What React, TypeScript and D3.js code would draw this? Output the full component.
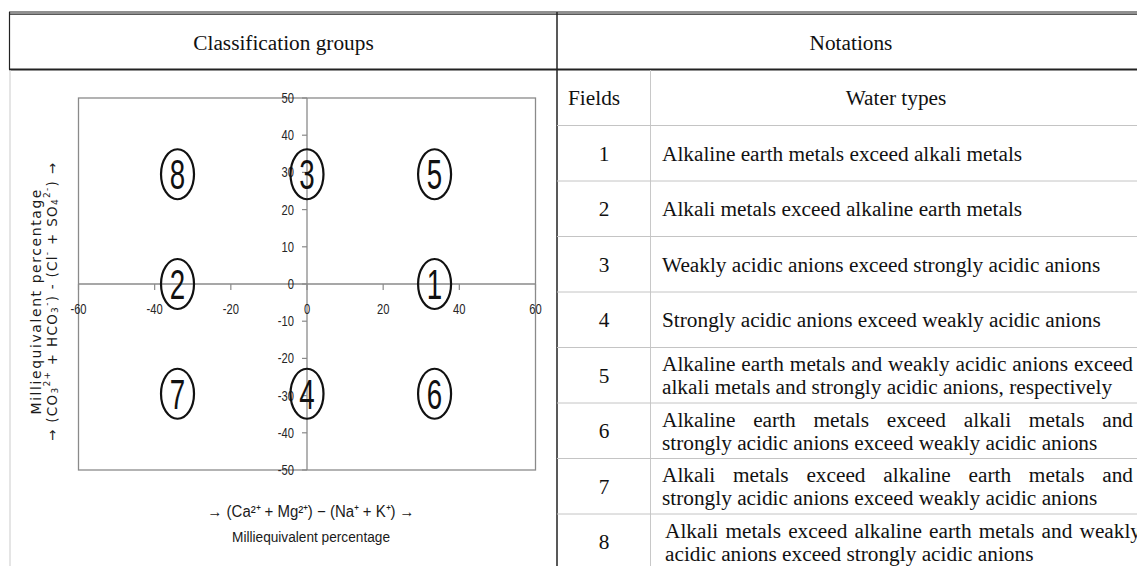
import React from 'react';
import * as d3 from 'd3';

// Axis ticks of the classification diagram
const X_TICKS = [-60, -40, -20, 0, 20, 40, 60];
const Y_TICKS = [50, 40, 30, 20, 10, 0, -10, -20, -30, -40, -50];

// Circled field markers (x = cation difference, y = anion difference)
const FIELD_LABELS = ['1', '2', '3', '4', '5', '6', '7', '8'];
const FIELD_X = [33.5, -34, 0, 0, 33.5, 33.5, -34, -34];
const FIELD_Y = [0, 0, 29.5, -29.5, 29.5, -29.5, -29.5, 29.5];

// Notation table
const FIELD_NUMBERS = ['1', '2', '3', '4', '5', '6', '7', '8'];
const WATER_TYPES = [
  ['Alkaline earth metals exceed alkali metals'],
  ['Alkali metals exceed alkaline earth metals'],
  ['Weakly acidic anions exceed strongly acidic anions'],
  ['Strongly acidic anions exceed weakly acidic anions'],
  ['Alkaline earth metals and weakly acidic anions exceed', 'alkali metals and strongly acidic anions, respectively'],
  ['Alkaline earth metals exceed alkali metals and', 'strongly acidic anions exceed weakly acidic anions'],
  ['Alkali metals exceed alkaline earth metals and', 'strongly acidic anions exceed weakly acidic anions'],
  ['Alkali metals exceed alkaline earth metals and weakly', 'acidic anions exceed strongly acidic anions'],
];

const X_TITLE = '\u2192 (Ca\u00B2\u207A + Mg\u00B2\u207A) \u2212 (Na\u207A + K\u207A) \u2192';
const X_SUBTITLE = 'Milliequivalent percentage';
const Y_SUBTITLE = 'Milliequivalent percentage';

const SERIF = "'Liberation Serif', 'Times New Roman', serif";
const SANS = "'Liberation Sans', Arial, sans-serif";
const WIDE = "'DejaVu Sans', Verdana, sans-serif";
const TABLE_FS = 21.3;

let measureCtx: CanvasRenderingContext2D | null = null;
function textWidth(s: string): number {
  if (!measureCtx && typeof document !== 'undefined') {
    measureCtx = document.createElement('canvas').getContext('2d');
  }
  if (!measureCtx) return s.length * TABLE_FS * 0.45;
  measureCtx.font = `${TABLE_FS}px ${SERIF}`;
  return measureCtx.measureText(s).width;
}

function JustifiedLine({ text, x, y, width }: { text: string; x: number; y: number; width: number }) {
  const words = text.split(' ');
  const widths = words.map(textWidth);
  const total = widths.reduce((a, b) => a + b, 0);
  const gap = (width - total) / Math.max(1, words.length - 1);
  let cx = x;
  const xsPos = widths.map((w) => {
    const p = cx;
    cx += w + gap;
    return p;
  });
  return (
    <text y={y} fontFamily={SERIF} fontSize={TABLE_FS} fill="#111" dominantBaseline="middle">
      {words.map((w, i) => (
        <tspan key={i} x={xsPos[i]}>
          {w}
        </tspan>
      ))}
    </text>
  );
}

function NarrowText({ x, y, sx, size, anchor, children, fill = '#262626', family = SANS }: any) {
  return (
    <text
      transform={`translate(${x},${y}) scale(${sx},1)`}
      fontFamily={family}
      fontSize={size}
      textAnchor={anchor}
      fill={fill}
    >
      {children}
    </text>
  );
}

type Seg = { t: string; s?: 'sub' | 'sup' };
function segTspans(segs: Seg[], small: number, shift: number) {
  let cur = 0;
  return segs.map((sg, i) => {
    const target = sg.s === 'sup' ? -shift : sg.s === 'sub' ? shift * 0.6 : 0;
    const dy = target - cur;
    cur = target;
    return (
      <tspan key={i} dy={dy} fontSize={sg.s ? small : undefined}>
        {sg.t}
      </tspan>
    );
  });
}

const Y_TITLE: Seg[] = [
  { t: '\u2192 (CO' },
  { t: '3', s: 'sub' },
  { t: '2+', s: 'sup' },
  { t: ' + HCO' },
  { t: '3', s: 'sub' },
  { t: '-', s: 'sup' },
  { t: ') - (Cl' },
  { t: '-', s: 'sup' },
  { t: ' + SO' },
  { t: '4', s: 'sub' },
  { t: '2-', s: 'sup' },
  { t: ') \u2192' },
];

export default function App() {
  const x = d3.scaleLinear().domain([-60, 60]).range([78.5, 535.5]);
  const y = d3.scaleLinear().domain([-50, 50]).range([470, 98]);
  const x0 = x(0);
  const y0 = y(0);

  const rowTop = 125.5;
  const rowH = 55.5;
  const rowLines = d3.range(FIELD_NUMBERS.length).map((i) => rowTop + i * rowH);
  const dyText = 2.5;

  return (
    <div style={{ position: 'absolute', left: 0, top: 0 }}>
      <svg width={1137} height={566} style={{ display: 'block', background: '#fff' }}>
        {/* table frame */}
        <line x1={9} x2={1137} y1={12} y2={12} stroke="#222" strokeWidth={1.2} />
        <line x1={9} x2={1137} y1={14.2} y2={14.2} stroke="#222" strokeWidth={1.2} />
        <line x1={9} x2={1137} y1={69.5} y2={69.5} stroke="#222" strokeWidth={1.8} />
        <line x1={9.5} x2={9.5} y1={12} y2={69.5} stroke="#222" strokeWidth={1.2} />
        <line x1={10} x2={10} y1={70} y2={566} stroke="#d4d4d4" strokeWidth={1.2} />
        <line x1={557} x2={557} y1={12} y2={566} stroke="#222" strokeWidth={1.5} />
        <line x1={650.5} x2={650.5} y1={70} y2={566} stroke="#c8c8c8" strokeWidth={1} />
        {rowLines.map((ry, i) => (
          <line key={i} x1={557} x2={1137} y1={ry} y2={ry} stroke="#c4c4c4" strokeWidth={1} />
        ))}

        {/* headers */}
        <text x={283.5} y={43 + dyText} fontFamily={SERIF} fontSize={TABLE_FS} textAnchor="middle" dominantBaseline="middle" fill="#111">
          Classification groups
        </text>
        <text x={851} y={43 + dyText} fontFamily={SERIF} fontSize={TABLE_FS} textAnchor="middle" dominantBaseline="middle" fill="#111">
          Notations
        </text>
        <text x={568} y={98 + dyText} fontFamily={SERIF} fontSize={TABLE_FS} dominantBaseline="middle" fill="#111">
          Fields
        </text>
        <text x={896} y={98 + dyText} fontFamily={SERIF} fontSize={TABLE_FS} textAnchor="middle" dominantBaseline="middle" fill="#111">
          Water types
        </text>

        {/* table rows */}
        {FIELD_NUMBERS.map((n, i) => {
          const top = rowLines[i];
          const mid = top + rowH / 2 + dyText;
          const lines = WATER_TYPES[i];
          const last = i === FIELD_NUMBERS.length - 1;
          const tx = last ? 665 : 662;
          return (
            <g key={n}>
              <text x={604} y={mid} fontFamily={SERIF} fontSize={TABLE_FS} textAnchor="middle" dominantBaseline="middle" fill="#111">
                {n}
              </text>
              {lines.length === 1 ? (
                <text x={tx} y={mid} fontFamily={SERIF} fontSize={TABLE_FS} dominantBaseline="middle" fill="#111">
                  {lines[0]}
                </text>
              ) : (
                <g>
                  <JustifiedLine text={lines[0]} x={tx} y={mid - 11.5} width={last ? 476 : 471} />
                  <text x={tx} y={mid + 11.5} fontFamily={SERIF} fontSize={TABLE_FS} dominantBaseline="middle" fill="#111">
                    {lines[1]}
                  </text>
                </g>
              )}
            </g>
          );
        })}

        {/* plot frame and zero axes */}
        <rect x={x(-60)} y={y(50)} width={x(60) - x(-60)} height={y(-50) - y(50)} fill="none" stroke="#8a8a8a" strokeWidth={1.3} />
        <line x1={x(-60)} x2={x(60)} y1={y0} y2={y0} stroke="#8a8a8a" strokeWidth={1.3} />
        <line x1={x0} x2={x0} y1={y(50)} y2={y(-50)} stroke="#8a8a8a" strokeWidth={1.3} />

        {X_TICKS.map((t) => (
          <g key={`xt${t}`}>
            <line x1={x(t)} x2={x(t)} y1={y0} y2={y0 + 6} stroke="#8a8a8a" strokeWidth={1.2} />
            <NarrowText x={x(t)} y={y0 + 30} sx={0.8} size={14} anchor="middle">
              {t}
            </NarrowText>
          </g>
        ))}
        {Y_TICKS.map((t) => (
          <g key={`yt${t}`}>
            <line x1={x0 - 5} x2={x0} y1={y(t)} y2={y(t)} stroke="#8a8a8a" strokeWidth={1.2} />
            <NarrowText x={x0 - 13} y={y(t) + 5} sx={0.8} size={14} anchor="end">
              {t}
            </NarrowText>
          </g>
        ))}

        {/* circled field numbers */}
        {FIELD_LABELS.map((lab, i) => {
          const cx = x(FIELD_X[i]);
          const cy = y(FIELD_Y[i]);
          return (
            <g key={`f${lab}`}>
              <ellipse cx={cx} cy={cy} rx={16.5} ry={25} fill="none" stroke="#111" strokeWidth={2.2} />
              <NarrowText x={cx} y={cy + 15} sx={0.66} size={42} anchor="middle" fill="#111">
                {lab}
              </NarrowText>
            </g>
          );
        })}

        {/* x-axis title */}
        <text
          x={311}
          y={517}
          fontFamily={SANS}
          fontSize={16}
          textAnchor="middle"
          fill="#1a1a1a"
          textLength={207}
          lengthAdjust="spacingAndGlyphs"
        >
          {X_TITLE}
        </text>
        <text
          x={311}
          y={542}
          fontFamily={SANS}
          fontSize={15.5}
          textAnchor="middle"
          fill="#1a1a1a"
          textLength={158}
          lengthAdjust="spacingAndGlyphs"
        >
          {X_SUBTITLE}
        </text>

        {/* y-axis title */}
        <text
          transform="translate(36,302) rotate(-90)"
          fontFamily={WIDE}
          fontSize={14}
          textAnchor="middle"
          dominantBaseline="central"
          fill="#1a1a1a"
          textLength={225}
          lengthAdjust="spacing"
        >
          {Y_SUBTITLE}
        </text>
        <text
          transform="translate(52,302) rotate(-90)"
          fontFamily={WIDE}
          fontSize={13.5}
          textAnchor="middle"
          dominantBaseline="central"
          fill="#1a1a1a"
          textLength={278}
          lengthAdjust="spacing"
        >
          {segTspans(Y_TITLE, 9, 5)}
        </text>
      </svg>
    </div>
  );
}
